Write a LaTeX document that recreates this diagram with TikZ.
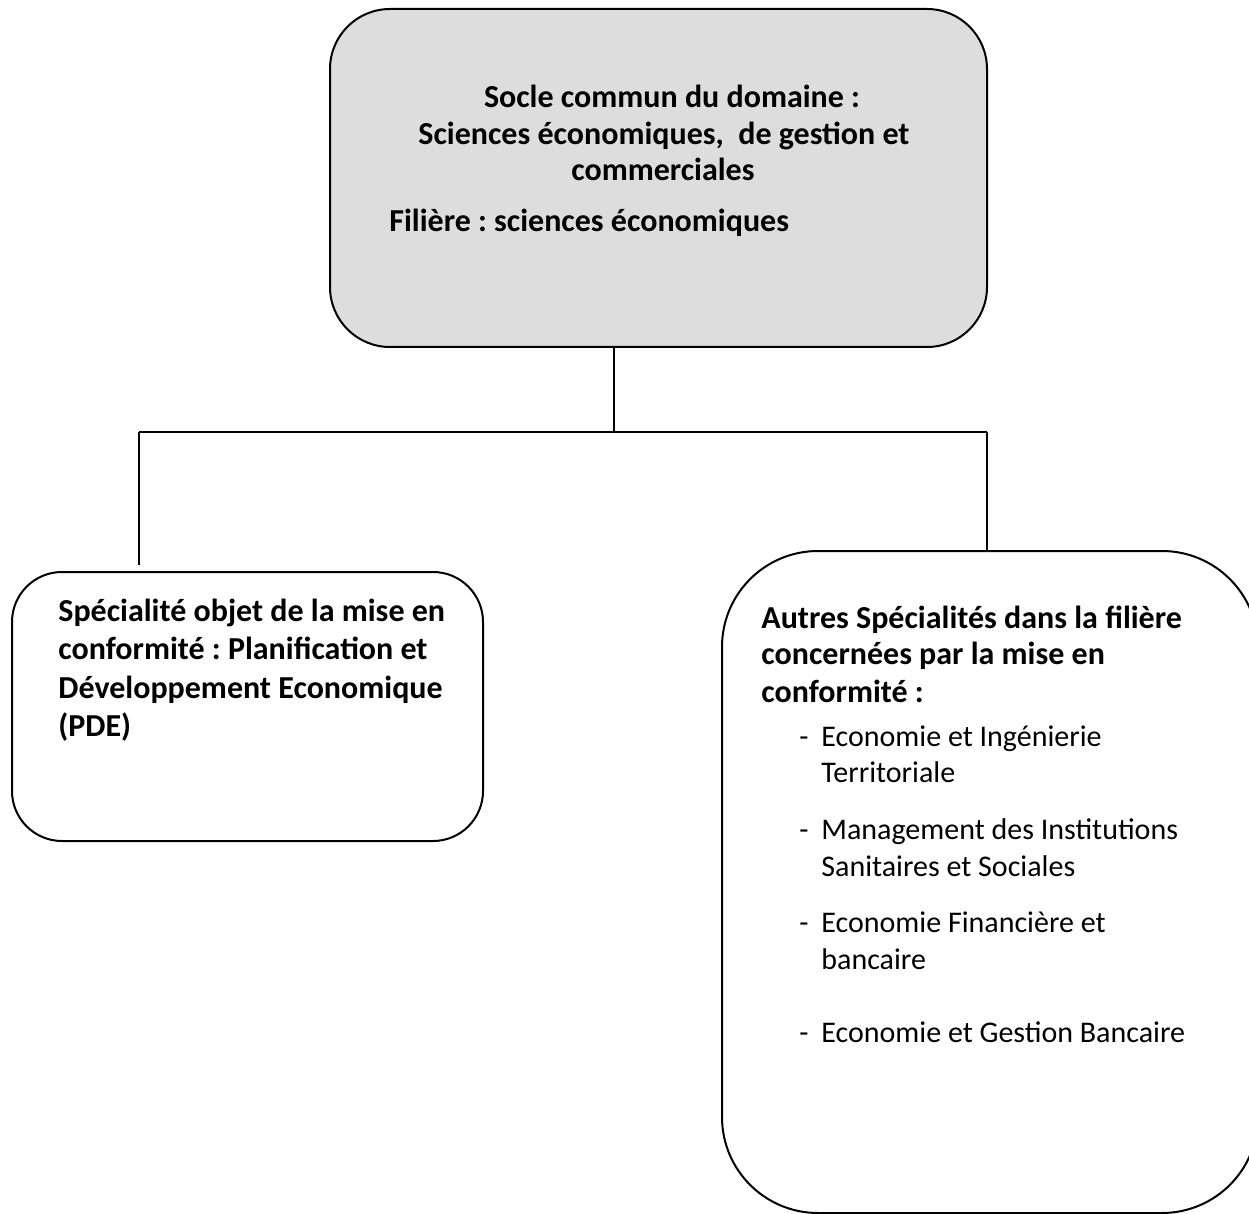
\documentclass[tikz,border=0pt]{standalone}
\usepackage{fontspec}
\setmainfont{Carlito}
\definecolor{boxgray}{RGB}{221,221,221}
\begin{document}
\frenchspacing
\begin{tikzpicture}[x=0.5pt,y=-0.5pt,
  box/.style={draw=black, line width=1pt, inner sep=0pt, outer sep=0pt},
  bt/.style={font=\fontsize{16pt}{18.5pt}\selectfont\bfseries, inner sep=0pt, anchor=base west},
  bc/.style={font=\fontsize{16pt}{18.5pt}\selectfont\bfseries, inner sep=0pt, anchor=base},
  rt/.style={font=\fontsize{15pt}{18pt}\selectfont, inner sep=0pt, anchor=base west},
  link/.style={draw=black, line width=1pt}]
\useasboundingbox (0,0) rectangle (1249,1214);
\clip (0,0) rectangle (1249,1214);

% boxes
\node[box, fill=boxgray, rounded corners=30pt, minimum width=328.5pt, minimum height=169pt] (top) at (658.5,178) {};
\node[box, fill=white, rounded corners=25pt, minimum width=235.5pt, minimum height=134.5pt] (left) at (247.5,706.5) {};
\node[box, fill=white, rounded corners=48pt, minimum width=268pt, minimum height=331pt] (right) at (990,882) {};

% connectors
\coordinate (j) at (614,432);
\coordinate (jl) at (139,432);
\coordinate (jr) at (987,432);
\coordinate (le) at (139,565);
\draw[link] (top.south -| j) -- (j);
\draw[link] (jl) -- (jr);
\draw[link] (jl) -- (le);
\draw[link] (jr) -- (right.north -| jr);

% top box text
\node[bc] (t1) at (672,108) {Socle commun du domaine :};
\node[bc] (t2) at (664,145) {Sciences économiques,\ \ de gestion et};
\node[bc] (t3) at (663,181) {commerciales};
\node[bt] (t4) at (389,232) {Filière : sciences économiques};

% left box text
\node[bt] (l1) at (58,621) {Spécialité objet de la mise en};
\node[bt] (l2) at (58,659) {conformité : Planification et};
\node[bt] (l3) at (58,698) {Développement Economique};
\node[bt] (l4) at (58,736) {(PDE)};

% right box text
\node[bt] (r1) at (761,628) {Autres Spécialités dans la filière};
\node[bt] (r2) at (761,664) {concernées par la mise en};
\node[bt] (r3) at (761,702) {conformité :};
\node[rt] (d1) at (799,746) {-};
\node[rt] (a1) at (821,746) {Economie et Ingénierie};
\node[rt] (a2) at (821,782) {Territoriale};
\node[rt] (d2) at (799,839) {-};
\node[rt] (b1) at (821,839) {Management des Institutions};
\node[rt] (b2) at (821,876) {Sanitaires et Sociales};
\node[rt] (d3) at (799,932) {-};
\node[rt] (c1) at (821,932) {Economie Financière et};
\node[rt] (c2) at (821,969) {bancaire};
\node[rt] (d4) at (799,1042) {-};
\node[rt] (e1) at (821,1042) {Economie et Gestion Bancaire};
\end{tikzpicture}
\end{document}
